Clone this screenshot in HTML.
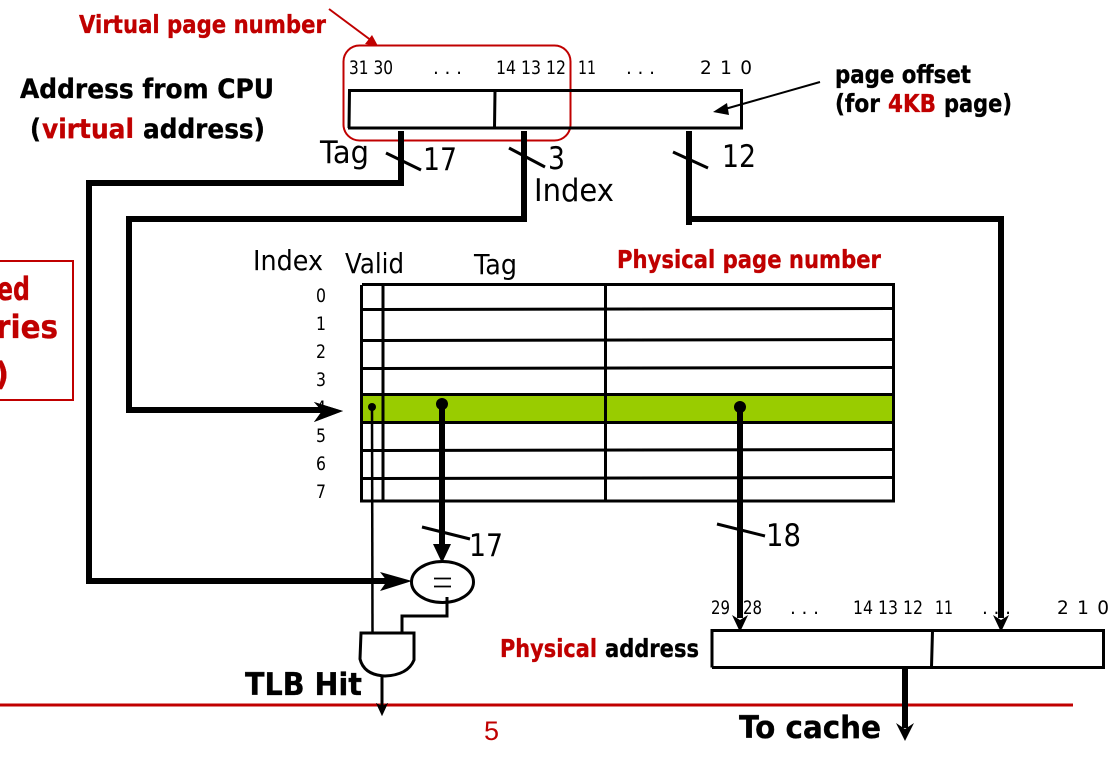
<!DOCTYPE html>
<html>
<head>
<meta charset="utf-8">
<style>
html,body{margin:0;padding:0;background:#fff;width:1120px;height:757px;overflow:hidden}
svg{display:block}
text{font-family:"DejaVu Sans","Liberation Sans",sans-serif;fill:#000}
.b{font-weight:bold;stroke-width:.35px}
text.b{stroke:#000}
text.b.r{stroke:#c00000}
.r{fill:#c00000}
.n{font-size:18.500px}
.m{font-size:31px}
.i{font-size:28px}
.h{font-size:25px}
.l{stroke:#000;fill:none}
</style>
</head>
<body>
<svg width="1120" height="757" viewBox="0 0 1120 757" xmlns="http://www.w3.org/2000/svg">
<rect x="0" y="0" width="1120" height="757" fill="#fff"/>

<!-- left clipped red box -->
<rect x="-40" y="261" width="113" height="139" fill="none" stroke="#c00000" stroke-width="2"/>
<text class="b r" x="-3" y="300" font-size="32" textLength="33" lengthAdjust="spacingAndGlyphs">ed</text>
<text class="b r" x="-4" y="338" font-size="32" textLength="62" lengthAdjust="spacingAndGlyphs">ries</text>
<text class="b r" x="-5" y="385" font-size="32" textLength="14" lengthAdjust="spacingAndGlyphs">)</text>

<!-- headings -->
<text class="b r h" x="79" y="33" textLength="247" lengthAdjust="spacingAndGlyphs">Virtual page number</text>
<text class="b" x="20" y="98" font-size="27" textLength="254" lengthAdjust="spacingAndGlyphs">Address from CPU</text>
<text class="b" x="30" y="138" font-size="27" textLength="11" lengthAdjust="spacingAndGlyphs">(</text>
<text class="b r" x="42" y="138" font-size="27" textLength="92" lengthAdjust="spacingAndGlyphs">virtual</text>
<text class="b" x="143" y="138" font-size="27" textLength="122" lengthAdjust="spacingAndGlyphs">address)</text>
<text class="b h" x="835" y="83" textLength="136" lengthAdjust="spacingAndGlyphs">page offset</text>
<text class="b h" x="835" y="112" textLength="45" lengthAdjust="spacingAndGlyphs">(for</text>
<text class="b r h" x="888" y="112" textLength="48" lengthAdjust="spacingAndGlyphs">4KB</text>
<text class="b h" x="944" y="112" textLength="68" lengthAdjust="spacingAndGlyphs">page)</text>

<!-- Virtual page number callout -->
<path class="l" d="M329 9 L372 41" style="stroke:#c00000" stroke-width="2"/>
<polygon points="378,46 365,44 372,35" fill="#c00000"/>
<rect x="343.500" y="45.500" width="227" height="95" rx="16" ry="16" fill="none" stroke="#c00000" stroke-width="2"/>

<!-- virtual address bits -->
<text class="n" x="349" y="74" textLength="44" lengthAdjust="spacingAndGlyphs">31 30</text>
<text class="n" x="433" y="74" textLength="29" lengthAdjust="spacing">...</text>
<text class="n" x="496" y="74" textLength="70" lengthAdjust="spacingAndGlyphs">14 13 12</text>
<text class="n" x="578" y="74" textLength="18" lengthAdjust="spacingAndGlyphs">11</text>
<text class="n" x="626" y="74" textLength="29" lengthAdjust="spacing">...</text>
<text class="n" x="700" y="74" textLength="52" lengthAdjust="spacing">2 1 0</text>

<!-- virtual address register -->
<path class="l" stroke-width="3" d="M349 128 L349.500 90.500 H741.500 V128 H348 M495 91 L494.500 128"/>

<!-- page offset arrow -->
<path class="l" stroke-width="2" d="M820 82 L725 109"/>
<polygon points="713,112 727,103 729,115" fill="#000"/>

<!-- thick buses -->
<path class="l" stroke-width="6" d="M401 131 V186 M404 183 H89 V581 H392"/>
<polygon points="412,581 380,572 387,581 380,591" fill="#000"/>
<path class="l" stroke-width="6" d="M524 131 V222 M527 219 H129 V410 H325"/>
<polygon points="343,411 314,402 322,411 314,422" fill="#000"/>
<path class="l" stroke-width="6" d="M689 131 V225 M689 219 H1001 V618"/>
<polygon points="1001,632 993,615 1001,620 1009,615" fill="#000"/>

<!-- bus slashes -->
<path class="l" stroke-width="3" d="M386 153 L421 170 M509 148 L545 167 M673 152 L708 168 M422 527 L470 539 M717 524 L765 536"/>

<text class="m" x="320" y="163" textLength="49" lengthAdjust="spacingAndGlyphs">Tag</text>
<text class="m" x="423" y="170" textLength="34" lengthAdjust="spacingAndGlyphs">17</text>
<text class="m" x="548" y="169" textLength="17" lengthAdjust="spacingAndGlyphs">3</text>
<text class="m" x="534" y="201" textLength="80" lengthAdjust="spacingAndGlyphs">Index</text>
<text class="m" x="722" y="167" textLength="34" lengthAdjust="spacingAndGlyphs">12</text>

<!-- TLB headings -->
<text class="i" x="253" y="270" textLength="70" lengthAdjust="spacingAndGlyphs">Index</text>
<text class="i" x="345" y="273" textLength="59" lengthAdjust="spacingAndGlyphs">Valid</text>
<text class="i" x="474" y="274" textLength="43" lengthAdjust="spacingAndGlyphs">Tag</text>
<text class="b r h" x="617" y="268" textLength="264" lengthAdjust="spacingAndGlyphs">Physical page number</text>

<!-- row indexes -->
<text class="n" x="316" y="302" textLength="10" lengthAdjust="spacingAndGlyphs">0</text>
<text class="n" x="316" y="330" textLength="10" lengthAdjust="spacingAndGlyphs">1</text>
<text class="n" x="316" y="358" textLength="10" lengthAdjust="spacingAndGlyphs">2</text>
<text class="n" x="316" y="386" textLength="10" lengthAdjust="spacingAndGlyphs">3</text>
<text class="n" x="316" y="414" textLength="10" lengthAdjust="spacingAndGlyphs">4</text>
<text class="n" x="316" y="442" textLength="10" lengthAdjust="spacingAndGlyphs">5</text>
<text class="n" x="316" y="470" textLength="10" lengthAdjust="spacingAndGlyphs">6</text>
<text class="n" x="316" y="498" textLength="10" lengthAdjust="spacingAndGlyphs">7</text>

<!-- index arrow drawn again over the 4 -->
<path class="l" stroke-width="6" d="M300 410 H325"/>
<polygon points="343,411 314,402 322,411 314,422" fill="#000"/>

<!-- TLB table -->
<rect x="362" y="395" width="531" height="28" fill="#99cc00"/>
<path class="l" stroke-width="3" d="M362 284.500 H893.500 V501 H361.500 V285 M383 286 V501 M605.500 285 V501"/>
<path class="l" stroke-width="3" d="M362 309.500 L893 308.500 M362 340.500 L893 339.500 M362 368.500 L893 367.500 M362 394.500 H893 M362 422.500 H893 M362 450.500 L893 449.500 M362 478.500 L893 477.500"/>

<!-- valid, tag and PPN read lines -->
<circle cx="372" cy="407" r="4" fill="#000"/>
<path class="l" stroke-width="2.500" d="M372 407 L372.500 633"/>
<circle cx="442" cy="404" r="6" fill="#000"/>
<path class="l" stroke-width="6" d="M442 404 V548"/>
<polygon points="442,563 433,544 451,544" fill="#000"/>
<circle cx="740" cy="407" r="6" fill="#000"/>
<path class="l" stroke-width="6" d="M740 407 V618"/>
<polygon points="740,632 732,615 740,620 748,615" fill="#000"/>

<text class="m" x="469" y="556" textLength="34" lengthAdjust="spacingAndGlyphs">17</text>
<text class="m" x="766" y="546" textLength="35" lengthAdjust="spacingAndGlyphs">18</text>

<!-- comparator -->
<ellipse cx="442.500" cy="582" rx="31" ry="20.500" fill="#fff" stroke="#000" stroke-width="3"/>
<path class="l" stroke-width="1.800" d="M434 578.500 H451 M434 586.500 H451"/>
<path class="l" stroke-width="3" d="M447 597 V616 H402 V633"/>

<!-- AND gate -->
<path class="l" stroke-width="3" d="M361 633 H414 V660 Q408 675 385 676 Q364 675 360 659 Z"/>
<path class="l" stroke-width="3" d="M382 676 V706"/>
<polygon points="382,716 376,703 382,706 388,703" fill="#000"/>

<text class="b" x="245" y="695" font-size="31" textLength="117" lengthAdjust="spacingAndGlyphs">TLB Hit</text>

<!-- footer rule -->
<path d="M0 705 H1073" stroke="#c00000" stroke-width="3" fill="none"/>
<path class="l" stroke-width="3" d="M382 700 V708"/>
<polygon points="382,716 376,703 382,706 388,703" fill="#000"/>
<text x="484" y="740" font-size="27" fill="#c00000" style="font-family:'Liberation Sans',sans-serif;fill:#c00000">5</text>

<!-- physical address -->
<text class="b r h" x="500" y="657" textLength="97" lengthAdjust="spacingAndGlyphs">Physical</text>
<text class="b h" x="605" y="657" textLength="94" lengthAdjust="spacingAndGlyphs">address</text>

<text class="n" x="711" y="614" textLength="19" lengthAdjust="spacingAndGlyphs">29</text>
<text class="n" x="743" y="614" textLength="19" lengthAdjust="spacingAndGlyphs">28</text>
<text class="n" x="790" y="614" textLength="29" lengthAdjust="spacing">...</text>
<text class="n" x="853" y="614" textLength="70" lengthAdjust="spacingAndGlyphs">14 13 12</text>
<text class="n" x="935" y="614" textLength="18" lengthAdjust="spacingAndGlyphs">11</text>
<text class="n" x="982" y="614" textLength="29" lengthAdjust="spacing">...</text>
<text class="n" x="1057" y="614" textLength="52" lengthAdjust="spacing">2 1 0</text>

<path class="l" stroke-width="3" d="M712 667.500 V630.500 H1103.500 V667.500 H712 M932.500 631 L931.500 667"/>

<path class="l" stroke-width="6" d="M905 669 V728"/>
<polygon points="905,741 896,723 905,729 914,723" fill="#000"/>
<text class="b" x="739" y="738" font-size="31" textLength="142" lengthAdjust="spacingAndGlyphs">To cache</text>
</svg>
</body>
</html>
